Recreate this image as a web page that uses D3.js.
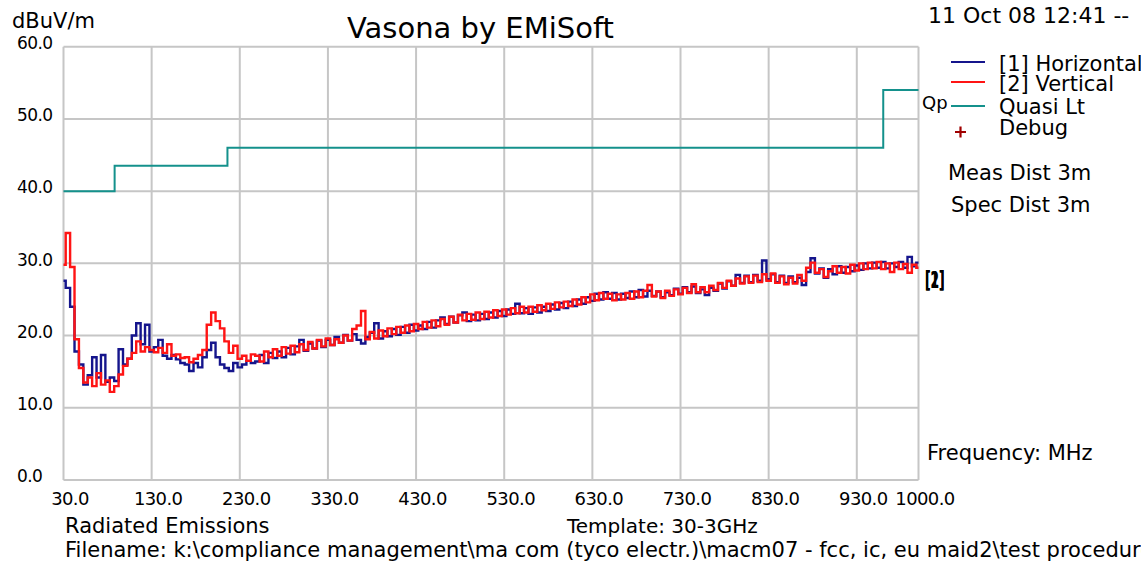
<!DOCTYPE html>
<html>
<head>
<meta charset="utf-8">
<script src="https://cdn.jsdelivr.net/npm/d3@7"></script>
<style>
  html, body { margin: 0; padding: 0; background: #fff; }
  svg { display: block; }
  text { font-family: "DejaVu Sans", sans-serif; fill: #000; }
</style>
</head>
<body>
<svg id="chart" width="1141" height="562"></svg>
<script>
// Sweep grid: 30 MHz to 1000 MHz in 5 MHz steps
const freqStart = 30;
const freqStep = 5;

// [1] Horizontal polarisation, dBuV/m
const horizontal = [
  27.6, 26.6, 24.0, 17.8, 16.0, 13.2, 14.5, 17.0, 14.2, 17.3,
  13.6, 14.2, 13.7, 18.1, 16.0, 16.8, 20.0, 21.7, 18.8, 21.5,
  17.8, 18.4, 19.4, 17.2, 16.8, 17.3, 16.7, 16.2, 16.0, 15.1,
  16.2, 15.6, 17.0, 18.0, 19.0, 17.0, 16.0, 15.5, 15.1, 16.2,
  15.6, 16.0, 16.5, 16.2,
  16.4, 17.3, 16.2, 17.6, 16.9, 17.8, 17.0, 18.3, 17.4, 18.5,
  19.4, 17.9, 18.9, 18.2, 19.3, 18.4, 19.4, 18.7, 19.8, 19.0,
  20.1, 19.3, 20.2, 19.4, 18.9, 19.8, 20.4, 21.7, 19.6, 20.6,
  19.9, 20.9, 20.1, 21.2, 20.4, 21.5, 20.7, 21.4, 20.9, 21.9,
  21.1, 22.1, 22.5, 21.6, 22.6, 21.8, 22.8, 23.2, 22.0, 22.9,
  22.1, 23.0, 22.3, 23.2, 22.5, 23.4, 22.7, 23.6, 23.0, 24.4,
  23.1, 23.8, 23.0, 23.9, 23.2, 24.0, 23.4, 24.3, 23.6, 24.5,
  23.8, 24.7, 24.1, 25.0, 24.4, 25.3, 24.8, 25.8, 25.0, 26.0,
  25.1, 25.9, 25.0, 25.8, 25.2, 26.1, 25.3, 26.3, 25.4, 26.2,
  25.5, 26.1, 25.3, 26.0, 25.6, 26.5, 25.8, 26.7, 26.0, 26.8,
  25.9, 26.4, 25.6, 26.6, 26.2, 27.2, 26.5, 27.5, 26.9, 28.4,
  27.3, 28.3, 27.4, 28.4, 27.6, 30.4, 27.8, 28.5, 27.4, 28.3,
  27.3, 28.2, 27.4, 28.0, 27.0, 28.8, 30.7, 28.6, 29.3, 28.0,
  29.2, 28.5, 29.6, 28.7, 29.5, 28.9, 29.7, 29.1, 30.0, 29.3,
  30.1, 29.4, 30.2, 29.3, 30.0, 29.5, 30.2, 29.4, 30.9, 29.6,
  30.1
];

// [2] Vertical polarisation, dBuV/m
const vertical = [
  29.8, 34.2, 29.5, 19.5, 15.5, 13.5, 14.2, 13.0, 14.8, 13.2,
  13.8, 12.2, 13.0, 14.6, 15.8, 16.8, 17.6, 19.2, 17.8, 18.4,
  18.0, 17.7, 18.3, 17.6, 18.8, 17.2, 17.4, 16.9, 17.0, 16.3,
  16.8, 17.3, 18.0, 21.5, 23.2, 22.0, 21.0, 19.2, 17.6, 18.6,
  16.8, 17.2, 16.5, 17.4,
  17.2, 16.4, 17.8, 17.0, 18.1, 17.2, 18.4, 17.5, 18.6, 17.7,
  18.8, 18.0, 19.1, 18.2, 19.4, 18.5, 19.6, 18.7, 19.5, 19.0,
  20.0, 19.3, 20.9, 21.4, 23.4, 19.5, 20.5, 19.6, 20.7, 19.9,
  21.0, 20.2, 21.2, 20.4, 21.4, 20.6, 21.6, 20.9, 21.9, 21.1,
  22.1, 21.3, 22.3, 21.5, 22.6, 21.8, 22.9, 22.1, 23.0, 22.2,
  23.2, 22.3, 23.3, 22.5, 23.5, 22.7, 23.6, 22.9, 23.8, 23.1,
  24.0, 23.2, 24.0, 23.3, 24.2, 23.5, 24.4, 23.7, 24.6, 23.9,
  24.7, 24.1, 25.0, 24.3, 25.3, 24.6, 25.7, 24.9, 25.9, 25.1,
  25.8, 24.9, 25.7, 25.0, 25.9, 25.1, 26.1, 25.3, 26.2, 27.0,
  25.4, 26.1, 25.2, 26.2, 25.5, 26.4, 25.7, 26.6, 25.9, 27.1,
  26.0, 26.7, 26.0, 26.9, 26.3, 27.3, 26.6, 27.6, 26.9, 27.9,
  27.2, 28.2, 27.3, 28.3, 27.4, 28.5, 27.6, 28.6, 27.3, 28.2,
  27.1, 28.0, 27.2, 28.4, 27.6, 29.4, 30.1, 28.7, 29.2, 28.1,
  28.9, 29.6, 28.7, 29.5, 28.6, 29.8, 29.0, 30.0, 29.2, 30.1,
  29.3, 30.2, 29.2, 30.0, 28.8, 30.1, 29.2, 29.9, 28.7, 29.8,
  29.4
];

// Quasi-peak limit (step changes at these frequencies)
const limitFreq = [30, 88, 216, 960, 1000];
const limitLevel = [40, 43.5, 46, 54, 54];

// Axis ticks
const xTicks = [30, 130, 230, 330, 430, 530, 630, 730, 830, 930, 1000];
const yTicks = [0, 10, 20, 30, 40, 50, 60];

const svg = d3.select("#chart");
svg.append("rect").attr("width", 1141).attr("height", 562).attr("fill", "#fff");

const x = d3.scaleLinear().domain([30, 1000]).range([63.5, 918.5]);
const y = d3.scaleLinear().domain([0, 60]).range([480, 46.7]);

const gridColor = "#c6c6c6";

// Grid and frame
const grid = svg.append("g");
grid.selectAll(".vg").data(xTicks).join("line")
  .attr("x1", d => x(d)).attr("x2", d => x(d))
  .attr("y1", y(0)).attr("y2", y(60))
  .attr("stroke", gridColor).attr("stroke-width", 2);
grid.selectAll(".hg").data(yTicks).join("line")
  .attr("x1", x(30)).attr("x2", x(1000))
  .attr("y1", d => y(d)).attr("y2", d => y(d))
  .attr("stroke", gridColor).attr("stroke-width", 2);

// Tick labels via axes, with domain and tick marks hidden
const xAxis = svg.append("g")
  .attr("transform", `translate(0,${y(0)})`)
  .call(d3.axisBottom(x).tickValues(xTicks).tickFormat(d3.format(".1f")).tickSize(0));
xAxis.select(".domain").remove();
xAxis.selectAll("text")
  .attr("dy", null).attr("y", 25).attr("dx", 6)
  .style("font-family", "DejaVu Sans").style("font-size", "18px")
  .style("letter-spacing", "-0.6px").attr("fill", "#000");

const yAxis = svg.append("g")
  .attr("transform", "translate(17,0)")
  .call(d3.axisLeft(y).tickValues(yTicks).tickFormat(d3.format(".1f")).tickSize(0));
yAxis.select(".domain").remove();
yAxis.selectAll("text")
  .attr("x", 0).attr("dy", "0.22em").attr("dx", 0).attr("y", -2)
  .attr("text-anchor", "start")
  .style("font-family", "DejaVu Sans").style("font-size", "17px")
  .style("letter-spacing", "-0.6px").attr("fill", "#000");

// Limit line
const limitData = limitFreq.map((f, i) => [f, limitLevel[i]]);
const limitLine = d3.line().x(d => x(d[0])).y(d => y(d[1])).curve(d3.curveStepAfter);
svg.append("path").datum(limitData)
  .attr("d", limitLine).attr("fill", "none")
  .attr("stroke", "#14918c").attr("stroke-width", 2);

// Measured traces
const freqs = d3.range(horizontal.length).map(i => freqStart + i * freqStep);
const trace = d3.line().x(d => x(d[0])).y(d => y(d[1])).curve(d3.curveStep);
svg.append("path").datum(freqs.map((f, i) => [f, horizontal[i]]))
  .attr("d", trace).attr("fill", "none")
  .attr("stroke", "#15158c").attr("stroke-width", 2.4);
svg.append("path").datum(freqs.map((f, i) => [f, vertical[i]]))
  .attr("d", trace).attr("fill", "none")
  .attr("stroke", "#ff1414").attr("stroke-width", 2.4);

// Trace end markers
const marker = svg.append("g").attr("transform", "translate(925,288) scale(0.72,1.35)");
marker.append("text").text("[1]").style("font-size", "17px").style("font-weight", "bold");
marker.append("text").text("[2]").style("font-size", "17px").style("font-weight", "bold");

// Titles and annotations
function label(txt, px, py, size) {
  return svg.append("text").text(txt).attr("x", px).attr("y", py).style("font-size", size + "px");
}
label("dBuV/m", 12, 28, 21);
label("Vasona by EMiSoft", 347, 38, 29);
label("11 Oct 08 12:41 --", 928, 23, 22);

// Legend
const legend = [
  { text: "[1] Horizontal", color: "#15158c", ly: 62, ty: 71 },
  { text: "[2] Vertical", color: "#ff1414", ly: 82, ty: 91 },
  { text: "Quasi Lt", color: "#14918c", ly: 106, ty: 114 }
];
legend.forEach(d => {
  svg.append("line").attr("x1", 951).attr("x2", 985).attr("y1", d.ly).attr("y2", d.ly)
    .attr("stroke", d.color).attr("stroke-width", 2.2);
  label(d.text, 999, d.ty, 21);
});
svg.append("path").attr("d", "M955,132H966M960.5,126.5V137.5")
  .attr("stroke", "#a00000").attr("stroke-width", 2.2);
label("Debug", 999, 135, 21);
label("Qp", 922, 109, 18);

label("Meas Dist 3m", 948, 180, 21);
label("Spec Dist 3m", 951, 212, 21);
label("Frequency: MHz", 927, 460, 21);

label("Radiated Emissions", 65, 533, 21);
label("Template: 30-3GHz", 567, 533, 20);
label("Filename: k:\\compliance management\\ma com (tyco electr.)\\macm07 - fcc, ic, eu maid2\\test procedures", 65, 557, 21);
</script>
</body>
</html>
